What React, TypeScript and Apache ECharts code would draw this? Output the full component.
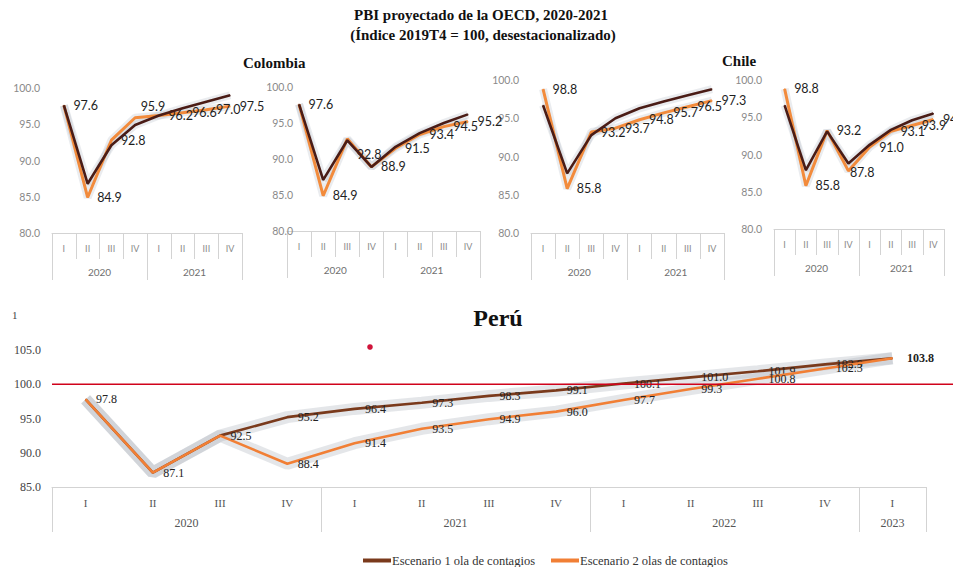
import React, { useEffect, useRef } from 'react';
import * as echarts from 'echarts';

// Quarters and years (2020-2021) for the four small panels
const QUARTERS = ['I', 'II', 'III', 'IV', 'I', 'II', 'III', 'IV'];
const YEARS_SMALL = ['2020', '2021'];
const YEAR_SPANS_SMALL = [4, 4];

// Colombia – left panel
const colombiaLeftEsc1 = [97.6, 86.8, 92.1, 94.9, 96.2, 97.2, 98.1, 99.0];
const colombiaLeftEsc2 = [97.6, 84.9, 92.8, 95.9, 96.2, 96.6, 97.0, 97.5];
// Colombia – right panel
const colombiaRightEsc1 = [97.6, 87.1, 92.6, 88.9, 91.7, 93.6, 95.0, 96.2];
const colombiaRightEsc2 = [97.6, 84.9, 92.8, 88.9, 91.5, 93.4, 94.5, 95.2];
// Chile – left panel
const chileLeftEsc1 = [96.7, 87.8, 92.8, 95.0, 96.3, 97.2, 98.0, 98.8];
const chileLeftEsc2 = [98.8, 85.8, 93.2, 93.7, 94.8, 95.7, 96.5, 97.3];
// Chile – right panel
const chileRightEsc1 = [96.6, 87.9, 93.1, 88.8, 91.3, 93.3, 94.6, 95.5];
const chileRightEsc2 = [98.8, 85.8, 93.2, 87.8, 91.0, 93.1, 93.9, 94.7];

// Perú, 2020 I – 2023 I
const PERU_QUARTERS = ['I', 'II', 'III', 'IV', 'I', 'II', 'III', 'IV', 'I', 'II', 'III', 'IV', 'I'];
const PERU_YEARS = ['2020', '2021', '2022', '2023'];
const PERU_YEAR_SPANS = [4, 4, 4, 1];
const peruEsc1 = [97.8, 87.1, 92.5, 95.2, 96.4, 97.3, 98.3, 99.1, 100.1, 101.0, 101.9, 102.9, 103.8];
const peruEsc2 = [97.8, 87.1, 92.5, 88.4, 91.4, 93.5, 94.9, 96.0, 97.7, 99.3, 100.8, 102.3, 103.8];

const SERIES_NAMES = ['Escenario 1 ola de contagios', 'Escenario 2 olas de contagios'];
const REFERENCE_LEVEL = 100;

const SANS = 'Lato, "Open Sans", sans-serif';
const SERIF = '"Liberation Serif", "DejaVu Serif", serif';
const DARK = '#4a1c16';
const ORANGE = '#f28b3c';
const PERU_DARK = '#7a3a1c';
const PERU_ORANGE = '#f17f35';
const HALO_SMALL = 'rgba(160,168,180,0.22)';
const HALO_PERU = 'rgba(165,172,182,0.3)';
const AXIS_GREY = '#d3d3d3';

type Panel = {
  grid: { left: number; top: number; width: number; height: number };
  esc1: number[];
  esc2: number[];
  yOffset: number;
  labelTweaks: Record<number, any>;
};

const panels: Panel[] = [
  { grid: { left: 52, top: 88, width: 190, height: 145 }, esc1: colombiaLeftEsc1, esc2: colombiaLeftEsc2, yOffset: 0,
    labelTweaks: { 3: { offset: [-4, -11] } } },
  { grid: { left: 287, top: 87, width: 193, height: 144 }, esc1: colombiaRightEsc1, esc2: colombiaRightEsc2, yOffset: -18,
    labelTweaks: { 2: { offset: [0, 16] } } },
  { grid: { left: 531, top: 80, width: 193, height: 153 }, esc1: chileLeftEsc1, esc2: chileLeftEsc2, yOffset: 0,
    labelTweaks: {} },
  { grid: { left: 774, top: 80, width: 170, height: 149 }, esc1: chileRightEsc1, esc2: chileRightEsc2, yOffset: 0,
    labelTweaks: { 3: { offset: [-8, 2] } } },
];

function yearAxis(gridIndex: number, spans: number[], years: string[], tickLen: number, margin: number, font: any) {
  const bounds = [0];
  spans.forEach((s) => bounds.push(bounds[bounds.length - 1] + s));
  const centers = spans.map((s, i) => bounds[i] + s / 2);
  return {
    type: 'value',
    gridIndex,
    position: 'bottom',
    min: 0,
    max: bounds[bounds.length - 1],
    axisLine: { show: false },
    splitLine: { show: false },
    axisTick: { show: true, customValues: bounds, length: tickLen, lineStyle: { color: AXIS_GREY } },
    axisLabel: {
      customValues: centers,
      margin,
      formatter: (v: number) => years[centers.indexOf(v)] ?? '',
      ...font,
    },
  };
}

function quarterAxis(gridIndex: number, data: string[], showTicks: boolean, margin: number, font: any) {
  return {
    type: 'category',
    gridIndex,
    data,
    boundaryGap: true,
    axisLine: { show: true, lineStyle: { color: AXIS_GREY } },
    axisTick: { show: showTicks, interval: 0, length: 26, lineStyle: { color: AXIS_GREY } },
    axisLabel: { interval: 0, margin, ...font },
    splitLine: { show: false },
  };
}

function withLabels(values: number[], tweaks: Record<number, any>, hidden: number[] = []) {
  return values.map((v, i) => {
    const item: any = { value: v };
    if (tweaks[i]) item.label = tweaks[i];
    if (hidden.includes(i)) item.label = { show: false };
    return item;
  });
}

export default function App() {
  const ref = useRef<HTMLDivElement>(null);

  useEffect(() => {
    if (!ref.current) return;
    const chart = echarts.init(ref.current, undefined, { renderer: 'svg' });

    const grid: any[] = [];
    const xAxis: any[] = [];
    const yAxis: any[] = [];
    const series: any[] = [];

    const smallQFont = { fontFamily: SANS, fontSize: 9, color: '#8a8a8a' };
    const smallYFont = { fontFamily: SANS, fontSize: 10.5, color: '#8a8a8a' };

    panels.forEach((p, i) => {
      grid.push({ ...p.grid });
      xAxis.push(quarterAxis(i, QUARTERS, true, 11, smallQFont));
      xAxis.push(yearAxis(i, YEAR_SPANS_SMALL, YEARS_SMALL, 47, 34, { fontFamily: SANS, fontSize: 10, color: '#6f6f6f' }));
      yAxis.push({
        type: 'value', gridIndex: i, min: 80, max: 100, interval: 5, offset: p.yOffset,
        axisLine: { show: false }, axisTick: { show: false }, splitLine: { show: false },
        axisLabel: { margin: 12, formatter: (v: number) => v.toFixed(1), ...smallYFont },
      });
      const common = { type: 'line', xAxisIndex: i * 2, yAxisIndex: i, symbol: 'circle', symbolSize: 1, silent: true };
      series.push({ ...common, name: `halo-a-${i}`, data: p.esc1, lineStyle: { width: 8, color: HALO_SMALL }, itemStyle: { opacity: 0 }, z: 1 });
      series.push({ ...common, name: `halo-b-${i}`, data: p.esc2, lineStyle: { width: 8, color: HALO_SMALL }, itemStyle: { opacity: 0 }, z: 1 });
      series.push({
        ...common, name: `esc2-${i}`, data: withLabels(p.esc2, p.labelTweaks), z: 3,
        lineStyle: { width: 3, color: ORANGE }, itemStyle: { color: ORANGE },
        label: { show: true, position: 'right', distance: 9, fontFamily: SANS, fontSize: 12.5, color: '#1e1e1e', formatter: (d: any) => d.value.toFixed(1) },
      });
      series.push({
        ...common, name: `esc1-${i}`, data: p.esc1, z: 4,
        lineStyle: { width: 2.6, color: DARK }, itemStyle: { color: DARK },
      });
    });

    // Perú panel
    const pi = panels.length;
    grid.push({ left: 52, top: 350, width: 874, height: 137 });
    xAxis.push(quarterAxis(pi, PERU_QUARTERS, false, 10, { fontFamily: SERIF, fontSize: 11, color: '#555' }));
    xAxis.push(yearAxis(pi, PERU_YEAR_SPANS, PERU_YEARS, 45, 30, { fontFamily: SERIF, fontSize: 12, color: '#555' }));
    yAxis.push({
      type: 'value', gridIndex: pi, min: 85, max: 105, interval: 5,
      axisLine: { show: false }, axisTick: { show: false }, splitLine: { show: false },
      axisLabel: { margin: 11, formatter: (v: number) => v.toFixed(1), fontFamily: SERIF, fontSize: 12, color: '#444' },
    });
    const pc = { type: 'line', xAxisIndex: pi * 2, yAxisIndex: pi, symbol: 'circle', symbolSize: 1, silent: true };
    const peruLabel = { show: true, position: 'right', distance: 10, fontFamily: SERIF, fontSize: 12, color: '#222', formatter: (d: any) => d.value.toFixed(1) };
    const lastIdx = peruEsc2.length - 1;
    series.push({ ...pc, name: 'halo-peru-a', data: peruEsc1, lineStyle: { width: 12, color: HALO_PERU }, itemStyle: { opacity: 0 }, z: 1 });
    series.push({ ...pc, name: 'halo-peru-b', data: peruEsc2, lineStyle: { width: 12, color: HALO_PERU }, itemStyle: { opacity: 0 }, z: 1 });
    series.push({
      ...pc, name: SERIES_NAMES[0], z: 3,
      data: withLabels(peruEsc1, {}, [0, 1, 2, lastIdx]),
      lineStyle: { width: 2.6, color: PERU_DARK }, itemStyle: { color: PERU_DARK }, label: peruLabel,
    });
    series.push({
      ...pc, name: SERIES_NAMES[1], z: 4,
      data: withLabels(peruEsc2, { [lastIdx]: { fontWeight: 'bold', distance: 14 } }),
      lineStyle: { width: 2.6, color: PERU_ORANGE }, itemStyle: { color: PERU_ORANGE }, label: peruLabel,
    });

    chart.setOption({
      animation: false,
      backgroundColor: '#ffffff',
      grid,
      xAxis,
      yAxis,
      series,
      legend: {
        data: SERIES_NAMES,
        left: 358,
        top: 549,
        icon: 'rect',
        itemWidth: 28,
        itemHeight: 4,
        itemGap: 16,
        textStyle: { fontFamily: SERIF, fontSize: 12.5, color: '#333', padding: [0, 0, 0, -4] },
      },
    });

    // Reference line at index 100, running from the Perú axis to the right edge
    const yRef = chart.convertToPixel({ yAxisIndex: pi } as any, REFERENCE_LEVEL) as number;

    const titleFont = `bold 15px ${SERIF}`;
    chart.setOption({
      graphic: [
        { type: 'line', silent: true, z: 10, shape: { x1: 52, y1: yRef, x2: 953, y2: yRef }, style: { stroke: '#d0021b', lineWidth: 1.5 } },
        { type: 'text', x: 481, y: 15, style: { text: 'PBI proyectado de la OECD, 2020-2021', font: titleFont, fill: '#111', align: 'center', verticalAlign: 'middle' } },
        { type: 'text', x: 483, y: 35, style: { text: '(Índice 2019T4 = 100, desestacionalizado)', font: titleFont, fill: '#111', align: 'center', verticalAlign: 'middle' } },
        { type: 'text', x: 243, y: 63, style: { text: 'Colombia', font: `bold 15px ${SERIF}`, fill: '#111', align: 'left', verticalAlign: 'middle' } },
        { type: 'text', x: 722, y: 61, style: { text: 'Chile', font: `bold 15px ${SERIF}`, fill: '#111', align: 'left', verticalAlign: 'middle' } },
        { type: 'text', x: 498, y: 318, style: { text: 'Perú', font: `bold 24px ${SERIF}`, fill: '#111', align: 'center', verticalAlign: 'middle' } },
        { type: 'text', x: 12, y: 315, style: { text: '1', font: `11px ${SERIF}`, fill: '#444', align: 'left', verticalAlign: 'middle' } },
        { type: 'circle', x: 370, y: 347, shape: { r: 2.8 }, style: { fill: '#d0143a' } },
      ],
    });

    return () => chart.dispose();
  }, []);

  return (
    <div
      ref={ref}
      style={{ position: 'fixed', left: 0, top: 0, width: 953, height: 567, background: '#fff' }}
    />
  );
}
